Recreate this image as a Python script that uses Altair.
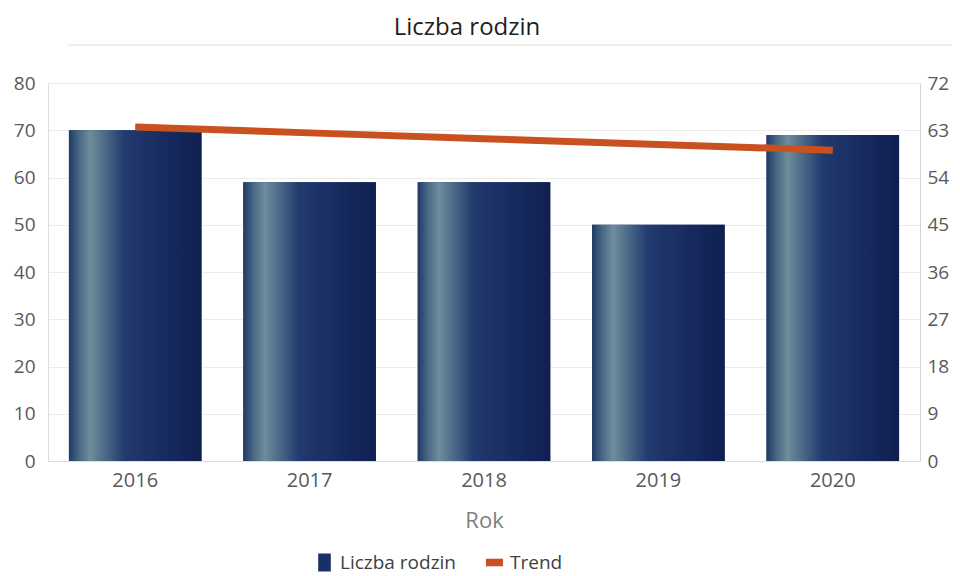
import altair as alt
import pandas as pd

# ---- data ----
years = ["2016", "2017", "2018", "2019", "2020"]
families = [70, 59, 59, 50, 69]          # left axis (Liczba rodzin)
trend = [63.6, 62.5, 61.4, 60.3, 59.2]   # right axis (Trend)

left_ticks = [0, 10, 20, 30, 40, 50, 60, 70, 80]
right_ticks = [0, 9, 18, 27, 36, 45, 54, 63, 72]

series_names = ["Liczba rodzin", "Trend"]

df = pd.DataFrame({"Rok": years, "Liczba": families, "Trend": trend})

FONT = "Open Sans"
NAVY = "#1a2f66"
ORANGE = "#c9511f"
LABEL = "#595959"

grad = alt.Gradient(
    gradient="linear",
    x1=0, x2=1, y1=0, y2=0,
    stops=[
        alt.GradientStop(offset=0.0, color="#1f3a66"),
        alt.GradientStop(offset=0.08, color="#4a6a85"),
        alt.GradientStop(offset=0.16, color="#6f8d9c"),
        alt.GradientStop(offset=0.27, color="#4b6a88"),
        alt.GradientStop(offset=0.42, color="#223a6e"),
        alt.GradientStop(offset=0.7, color="#182c60"),
        alt.GradientStop(offset=1.0, color="#0f1f50"),
    ],
)

x_enc = alt.X(
    "Rok:N",
    scale=alt.Scale(paddingInner=0.24, paddingOuter=0.12),
    axis=alt.Axis(
        title="Rok", labelAngle=0, labelFontSize=20, labelColor=LABEL,
        labelPadding=9, ticks=False, domainColor="#dcdcdc",
        titleFontSize=22, titleFontWeight="normal", titleColor="#808080",
        titlePadding=20, labelFont=FONT, titleFont=FONT,
    ),
)

bar_legend = alt.Legend(
    title=None, orient="none", direction="horizontal",
    legendX=267, legendY=470, labelFontSize=19, labelColor="#404040",
    labelFont=FONT, symbolSize=324, labelOffset=6,
    symbolType="M-0.7,-1H0.7V1H-0.7Z", symbolStrokeWidth=0, symbolOpacity=1,
)
line_legend = alt.Legend(
    title=None, orient="none", direction="horizontal",
    legendX=437, legendY=470, labelFontSize=19, labelColor="#404040",
    labelFont=FONT, symbolSize=324, labelOffset=6,
    symbolType="M-0.95,-0.42H0.95V0.42H-0.95Z", symbolStrokeWidth=0,
    symbolFillColor=ORANGE, symbolOpacity=1,
)

base = alt.Chart(df)

bars_base = base.transform_calculate(series="'%s'" % series_names[0]).mark_bar(color=NAVY).encode(
    x=x_enc,
    y=alt.Y(
        "Liczba:Q",
        scale=alt.Scale(domain=[0, 80]),
        axis=alt.Axis(
            title=None, values=left_ticks, labelFontSize=19, labelColor=LABEL,
            labelPadding=13, ticks=False, domain=False, grid=True,
            gridColor="#ececec", labelFont=FONT,
        ),
    ),
    color=alt.Color("series:N", scale=alt.Scale(domain=[series_names[0]], range=[NAVY]),
                    legend=bar_legend),
)
bars_grad = base.mark_bar(color=grad).encode(
    x=x_enc,
    y=alt.Y("Liczba:Q", scale=alt.Scale(domain=[0, 80]), axis=None),
)
line = base.transform_calculate(series2="'%s'" % series_names[1]).mark_line(
    strokeWidth=7, strokeCap="butt"
).encode(
    x=x_enc,
    y=alt.Y(
        "Trend:Q",
        scale=alt.Scale(domain=[0, 72]),
        axis=alt.Axis(
            title=None, orient="right", values=right_ticks, labelFontSize=19,
            labelColor=LABEL, labelPadding=7, ticks=False, domain=True,
            domainColor="#d4d4d4", grid=False, labelFont=FONT,
        ),
    ),
    color=alt.Color("series2:N", scale=alt.Scale(domain=[series_names[1]], range=[ORANGE]),
                    legend=line_legend),
)

# faint header separator line above the plot
separator = alt.Chart(df).mark_rule(color="#eeeeee", strokeWidth=1).encode(
    x=alt.value(20), x2=alt.value(905), y=alt.value(-38)
)

chart = (
    alt.layer(bars_base, bars_grad, line, separator)
    .resolve_scale(y="independent", color="independent")
    .properties(
        width=872, height=378,
        title=alt.Title(
            "Liczba rodzin", fontSize=24, font=FONT, fontWeight="normal",
            color="#1e1e1e", anchor="middle", dx=-17, offset=5,
        ),
        autosize=alt.AutoSizeParams(type="none"),
        padding={"left": 40, "top": 75, "right": 32, "bottom": 114},
    )
    .configure_view(stroke=None)
    .configure(font=FONT)
)

chart.save("out.html", embed_options={"renderer": "svg", "actions": False})
